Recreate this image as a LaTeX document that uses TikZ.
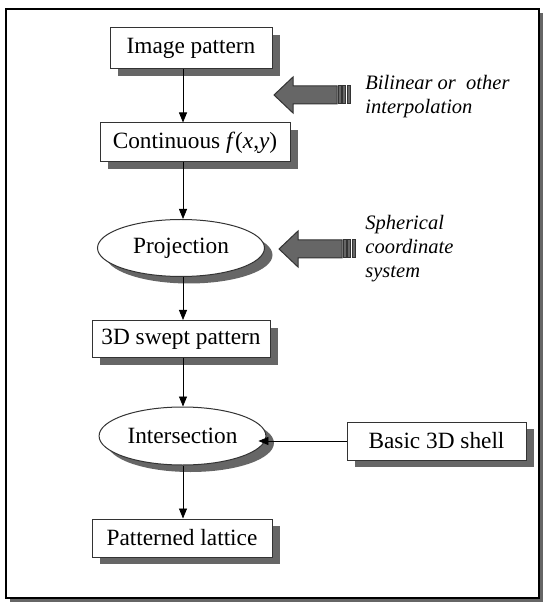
\documentclass[tikz,border=0pt]{standalone}
\usepackage{fontspec}
\setmainfont{Liberation Serif}
\usetikzlibrary{arrows.meta,positioning,shapes.geometric,shadows}

\begin{document}
\begin{tikzpicture}[
    x=0.5pt, y=-0.5pt,
    box/.style={draw=black!80, fill=white, line width=0.5pt,
                minimum height=19.5pt, inner sep=2pt,
                font=\fontsize{11.65}{14}\selectfont,
                drop shadow={shadow xshift=4pt, shadow yshift=-3.5pt,
                             fill=black!60, opacity=1}},
    oval/.style={box, ellipse},
    note/.style={anchor=west, align=left, inner sep=0pt,
                 font=\fontsize{10.25}{12}\selectfont\itshape},
    bigarrow/.style={draw=black!80, fill=black!60, line width=0.5pt},
    >={Triangle[length=5pt,width=4pt]},
]
  % Frame
  \useasboundingbox (0,0) rectangle (544,603);
  \fill[black!60] (10,13) rectangle (543,602);
  \draw[fill=white, line width=0.7pt] (6,9) rectangle (539,598);

  % Flow
  \coordinate (spine) at (183,0);
  \node[box, minimum width=81pt, minimum height=20.5pt] (img) at (191,48.5) {Image pattern};
  \node[box, minimum width=95pt] (cont) at (195,142.5)
    {Continuous \textit{f}(\textit{x},\textit{y})};
  \node[oval, minimum width=83.5pt, minimum height=28.5pt] (proj) at (181,248) {Projection};
  \node[box, minimum width=89pt, minimum height=18.5pt] (swept) at (181,339) {3D swept pattern};
  \node[oval, minimum width=82.5pt, minimum height=29pt] (inter) at (182.5,436) {Intersection};
  \node[box, minimum width=89.5pt, minimum height=19pt] (shell) at (436.5,441) {Basic 3D shell};
  \node[box, minimum width=90pt, minimum height=19pt] (lattice) at (182,538) {Patterned lattice};

  \draw[->] (img.south -| spine) -- (cont.north -| spine);
  \draw[->] (cont.south -| spine) -- (proj.north -| spine);
  \draw[->] (proj.south -| spine) -- (swept.north -| spine);
  \draw[->] (swept.south -| spine) -- (inter.north -| spine);
  \draw[->] (inter.south -| spine) -- (lattice.north -| spine);
  \draw[->, shorten >=-4pt] (shell.west) -- (shell.west -| inter.east);

  % Side inputs
  \node[note] (interp) at (365,97) {Bilinear or\ \ other\\interpolation};
  \node[note] (sphere) at (365,249) {Spherical\\coordinate\\system};

  \foreach \ya/\xa in {95/274, 249/279} {
    \draw[bigarrow] (\xa,\ya) -- ++(19,-18) -- ++(0,9) -- ++(44,0) -- ++(0,18)
      -- ++(-44,0) -- ++(0,9) -- cycle;
    \foreach \s in {64,68.5,73}
      \draw[bigarrow] (\xa+\s,\ya-9) rectangle ++(3,18);
  }
\end{tikzpicture}
\end{document}
